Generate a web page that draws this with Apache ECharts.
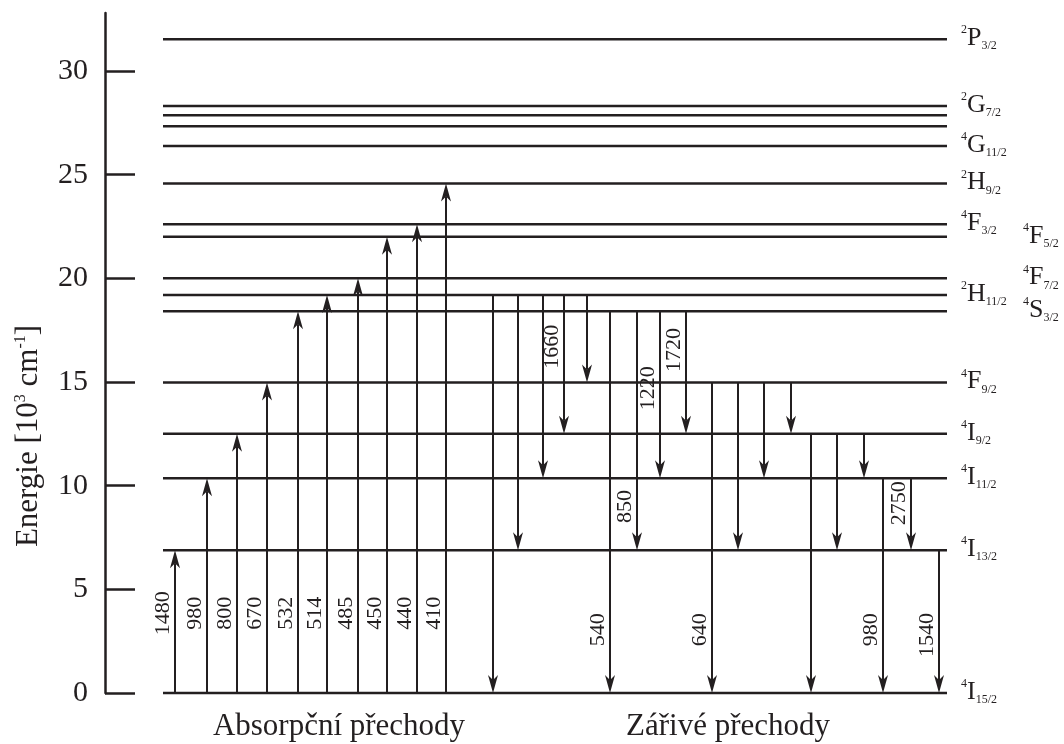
<!DOCTYPE html>
<html><head><meta charset="utf-8">
<script src="https://cdn.jsdelivr.net/npm/echarts@6/dist/echarts.min.js"></script>
<style>html,body{margin:0;padding:0;background:#fff}#c{width:1064px;height:744px}</style>
</head><body><div id="c"></div>
<script>
// Energy levels of Er3+ [10^3 cm^-1]
const levelEnergy = [0, 6.89, 10.36, 12.50, 14.98, 18.41, 19.20, 20.00, 22.01, 22.61, 24.57, 26.38, 27.34, 27.87, 28.31, 31.53];
const levelMult   = ['4','4','4','4','4','4','2','4','4','4','2','4','','','2','2'];
const levelLetter = ['I','I','I','I','F','S','H','F','F','F','H','G','','','G','P'];
const levelJ      = ['15/2','13/2','11/2','9/2','9/2','3/2','11/2','7/2','5/2','3/2','9/2','11/2','','','7/2','3/2'];

// Absorption transitions (from ground level 0 up to level index)
const absWavelength = ['1480','980','800','670','532','514','485','450','440','410'];
const absUpper      = [1, 2, 3, 4, 5, 6, 7, 8, 9, 10];
const absSlot       = [7.0, 10.2, 13.2, 16.2, 19.3, 22.2, 25.3, 28.2, 31.2, 34.1];

// Radiative transitions (upper level index -> lower level index)
const emiUpper      = [6, 6, 6, 6, 6, 5, 5, 5, 5, 4, 4, 4, 4, 3, 3, 3, 2, 2, 1];
const emiLower      = [0, 1, 2, 3, 4, 0, 1, 2, 3, 0, 1, 2, 3, 0, 1, 2, 0, 1, 0];
const emiWavelength = ['', '', '', '1660', '', '540', '850', '1220', '1720', '640', '', '', '', '', '', '', '980', '2750', '1540'];
const emiSlot       = [38.8, 41.3, 43.8, 45.9, 48.2, 50.5, 53.2, 55.5, 58.1, 60.7, 63.3, 65.9, 68.6, 70.6, 73.2, 75.9, 77.8, 80.6, 83.4];

const yTicks = [0, 5, 10, 15, 20, 25, 30];

// ---- layout / style (not data) ----
const INK = '#231f20';
const SERIF = '"Liberation Serif", "Times New Roman", serif';
const LINE_START = 5.8, LINE_END = 84.2;
const levelLabelColumn = [0,0,0,0,0,1,0,1,1,0,0,0,0,0,0,0];
const absLabelAt = 3.85;
const emiLabelAt = [null,null,null,16.7,null,3.05,9.0,14.7,16.55,3.05,null,null,null,null,null,null,3.05,9.15,2.8];

function arrowGroup(api, x, yFrom, yTo, label, labelY) {
  const p0 = api.coord([x, yFrom]), p1 = api.coord([x, yTo]);
  const dir = p1[1] > p0[1] ? 1 : -1;
  const L = 18, W = 5, N = 13;
  const tx = p1[0], ty = p1[1];
  const children = [
    {type: 'line', shape: {x1: p0[0], y1: p0[1], x2: tx, y2: ty - dir * N}, style: {stroke: INK, lineWidth: 2}},
    {type: 'polygon', shape: {points: [[tx, ty], [tx - W, ty - dir * L], [tx, ty - dir * N], [tx + W, ty - dir * L]]}, style: {fill: INK}}
  ];
  if (label) {
    const ly = api.coord([x, labelY])[1];
    children.push({type: 'text', x: tx - 12, y: ly, rotation: Math.PI / 2,
      style: {text: label, fontSize: 22, fontFamily: SERIF, fill: INK, align: 'center', verticalAlign: 'middle'}});
  }
  return {type: 'group', children};
}

const levelRich = {
  s: {fontSize: 12, lineHeight: 14, verticalAlign: 'top', fontFamily: SERIF, fill: INK},
  m: {fontSize: 26, lineHeight: 28, verticalAlign: 'middle', fontFamily: SERIF, fill: INK},
  j: {fontSize: 12, lineHeight: 20, verticalAlign: 'bottom', fontFamily: SERIF, fill: INK}
};

const option = {
  animation: false,
  backgroundColor: '#fff',
  grid: {left: 105, right: 119, top: 13, bottom: 51},
  xAxis: {type: 'value', min: 0, max: 84, show: false},
  yAxis: {
    type: 'value', min: 0, max: 32.8,
    axisLine: {show: true, lineStyle: {color: INK, width: 2.5}},
    axisTick: {show: true, inside: true, length: 30, customValues: yTicks, lineStyle: {color: INK, width: 2.5}},
    axisLabel: {customValues: yTicks, fontSize: 30, fontFamily: SERIF, color: INK, margin: 17},
    splitLine: {show: false}
  },
  series: [
    {
      type: 'custom', name: 'levels',
      data: levelEnergy.map(e => [0, e]),
      encode: {x: 0, y: 1},
      renderItem(params, api) {
        const i = params.dataIndex;
        const e = api.value(1);
        const a = api.coord([LINE_START, e]), b = api.coord([LINE_END, e]);
        const children = [{type: 'line', shape: {x1: a[0], y1: a[1], x2: b[0], y2: b[1]}, style: {stroke: INK, lineWidth: 2.5}}];
        if (levelLetter[i]) {
          children.push({type: 'text', x: b[0] + (levelLabelColumn[i] ? 76 : 14), y: b[1] - 1,
            style: {text: '{s|' + levelMult[i] + '}{m|' + levelLetter[i] + '}{j|' + levelJ[i] + '}',
              rich: levelRich, align: 'left', verticalAlign: 'middle', fill: INK}});
        }
        return {type: 'group', children};
      }
    },
    {
      type: 'custom', name: 'absorption',
      data: absSlot.map((x, i) => [x, levelEnergy[0], levelEnergy[absUpper[i]]]),
      encode: {x: 0, y: [1, 2]},
      renderItem(params, api) {
        const i = params.dataIndex;
        return arrowGroup(api, api.value(0), api.value(1), api.value(2), absWavelength[i], absLabelAt);
      }
    },
    {
      type: 'custom', name: 'emission',
      data: emiSlot.map((x, i) => [x, levelEnergy[emiUpper[i]], levelEnergy[emiLower[i]]]),
      encode: {x: 0, y: [1, 2]},
      renderItem(params, api) {
        const i = params.dataIndex;
        return arrowGroup(api, api.value(0), api.value(1), api.value(2), emiWavelength[i], emiLabelAt[i]);
      }
    }
  ],
  graphic: [
    {type: 'text', x: 29, y: 436, rotation: Math.PI / 2,
      style: {text: '{n|Energie [10}{s|3}{n| cm}{s|-1}{n|]}', align: 'center', verticalAlign: 'middle',
        rich: {n: {fontSize: 31, lineHeight: 32, fontFamily: SERIF, fill: INK, verticalAlign: 'middle'},
               s: {fontSize: 16, lineHeight: 20, fontFamily: SERIF, fill: INK, verticalAlign: 'top'}}}},
    {type: 'text', x: 339, y: 727, style: {text: 'Absorpční přechody', fontSize: 31, fontFamily: SERIF, fill: INK, align: 'center', verticalAlign: 'middle'}},
    {type: 'text', x: 728, y: 727, style: {text: 'Zářivé přechody', fontSize: 31, fontFamily: SERIF, fill: INK, align: 'center', verticalAlign: 'middle'}}
  ]
};
echarts.init(document.getElementById('c'), null, {renderer: 'canvas'}).setOption(option);
</script></body></html>
